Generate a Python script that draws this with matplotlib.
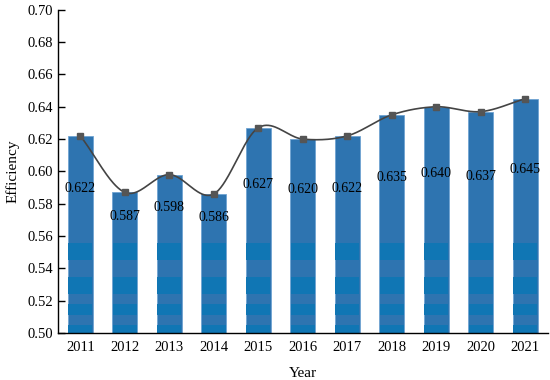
import numpy as np
import matplotlib
matplotlib.use('agg')
import matplotlib.pyplot as plt

years = ['2011', '2012', '2013', '2014', '2015', '2016', '2017', '2018', '2019', '2020', '2021']
efficiency = [0.622, 0.587, 0.598, 0.586, 0.627, 0.620, 0.622, 0.635, 0.640, 0.637, 0.645]
y_ticks = [0.50, 0.52, 0.54, 0.56, 0.58, 0.60, 0.62, 0.64, 0.66, 0.68, 0.70]

# darker stripes in the lower part of the bars (rendering artefact of the original)
stripes = [(0.5452, 0.5559), (0.5241, 0.5349), (0.5110, 0.5180), (0.5000, 0.5050)]

plt.rcParams['font.family'] = ['Liberation Serif', 'DejaVu Serif']


def smooth_line(x, y, steps=40):
    # Catmull-Rom style smoothing, like a spreadsheet "smoothed line"
    x = np.asarray(x, float)
    y = np.asarray(y, float)
    px = np.concatenate([[2 * x[0] - x[1]], x, [2 * x[-1] - x[-2]]])
    py = np.concatenate([[2 * y[0] - y[1]], y, [2 * y[-1] - y[-2]]])
    xs, ys = [], []
    t = np.linspace(0, 1, steps)
    for i in range(1, len(px) - 2):
        p0, p1, p2, p3 = (np.array([px[j], py[j]]) for j in range(i - 1, i + 3))
        c1 = p1 + (p2 - p0) / 6
        c2 = p2 - (p3 - p1) / 6
        pts = ((1 - t)**3)[:, None] * p1 + (3 * (1 - t)**2 * t)[:, None] * c1 \
            + (3 * (1 - t) * t**2)[:, None] * c2 + (t**3)[:, None] * p2
        xs.append(pts[:, 0])
        ys.append(pts[:, 1])
    return np.concatenate(xs), np.concatenate(ys)


fig = plt.figure(figsize=(5.5, 3.8), dpi=100)
ax = fig.add_axes([0.1055, 0.124, 0.89, 0.85])

x = np.arange(len(years))
width = 0.56
ax.bar(x, np.array(efficiency) - 0.5, bottom=0.5, width=width,
       color='#2e74b0', edgecolor='#6fa3d2', linewidth=0.6, zorder=2)
for lo, hi in stripes:
    ax.bar(x, hi - lo, bottom=lo, width=width - 0.02, color='#1076b4',
           linewidth=0, zorder=2.5)

sx, sy = smooth_line(x, efficiency)
ax.plot(sx, sy, color='#444444', lw=1.2, zorder=3)
ax.plot(x, efficiency, 's', color='#555555', ms=5, zorder=4)

for xi, v in zip(x, efficiency):
    ax.text(xi, (v + 0.557) / 2, f'{v:.3f}', ha='center', va='center',
            fontsize=10, color='black', zorder=5)

ax.set_xlim(-0.5, len(years) - 0.5)
ax.set_ylim(0.5, 0.7)
ax.set_xticks(x)
ax.set_xticklabels(years)
ax.set_yticks(y_ticks)
ax.set_yticklabels([f'{t:.2f}' for t in y_ticks])
ax.tick_params(direction='in', length=5, width=1, labelsize=10.5, color='black')
ax.tick_params(axis='x', pad=6)
ax.spines['top'].set_visible(False)
ax.spines['right'].set_visible(False)
ax.spines['left'].set_linewidth(1)
ax.spines['bottom'].set_linewidth(1)
ax.set_xlabel('Year', fontsize=11, labelpad=9)
ax.set_ylabel('Efficiency', fontsize=11, labelpad=6)

plt.savefig('out.png', dpi=100)
